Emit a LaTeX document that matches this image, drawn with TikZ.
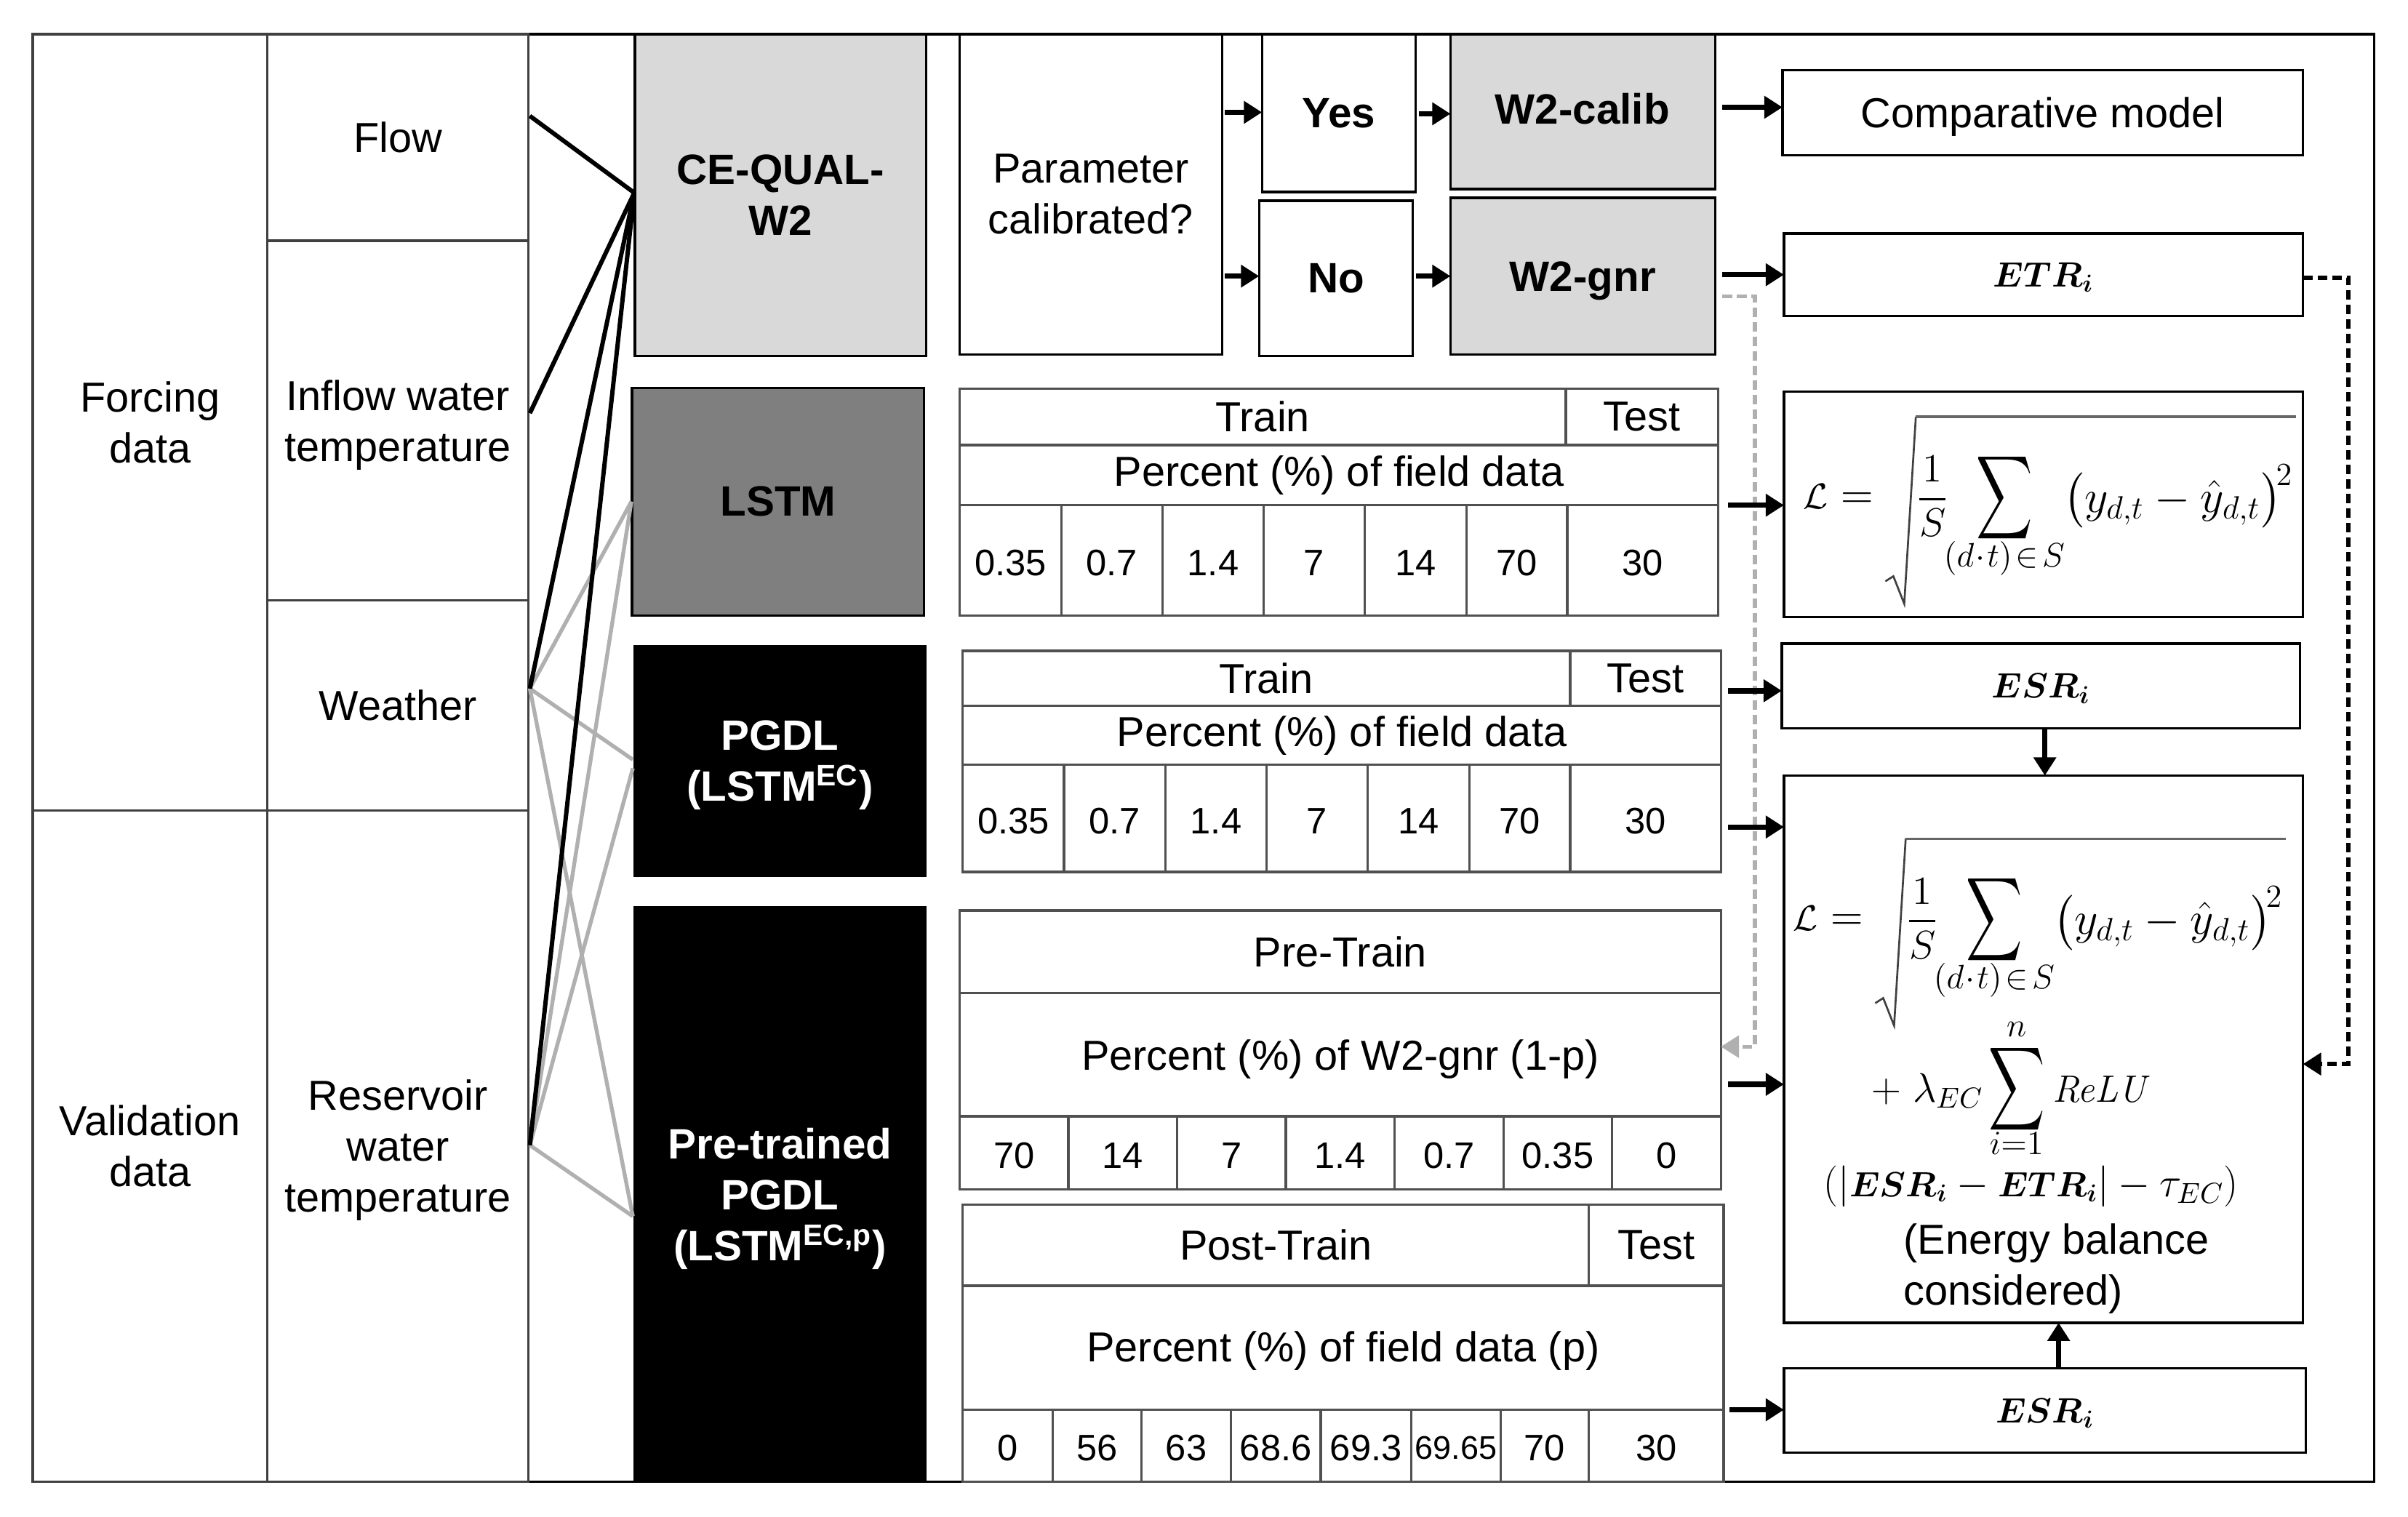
\documentclass[tikz,border=0pt]{standalone}
\usepackage{fix-cm}
\usepackage{amsmath,amssymb,graphicx}
\usepackage[no-math]{fontspec}
\setmainfont{Liberation Sans}
\usetikzlibrary{arrows.meta,calc}
\definecolor{lightbox}{HTML}{D9D9D9}
\definecolor{midbox}{HTML}{7F7F7F}
\definecolor{tabline}{HTML}{505050}
\definecolor{graylink}{HTML}{B0B0B0}
\newcommand{\sumsym}{\scalebox{0.87}[1.3]{$\displaystyle\sum$}}
\newcommand{\esrsym}{\scalebox{0.85}{$\boldsymbol{ESR_i}$}}
\newcommand{\etrsym}{\scalebox{0.85}{$\boldsymbol{ETR_i}$}}
\newcommand{\bx}[7]{%
  \pgfmathsetmacro\bxw{abs(#4-#2)*0.299}%
  \pgfmathsetmacro\bxh{abs(#5-#3)*0.299}%
  \node[#6,minimum width=\bxw pt,minimum height=\bxh pt] (#1) at ({(#2+#4)/2},{(#3+#5)/2}) {#7};}
\newcommand{\cellrow}[4]{%
  \foreach \xa/\xb/\val [count=\ci] in {#4} {\bx{#1\ci}{\xa}{#2}{\xb}{#3}{tcell}{\val}}}
% the root expression, drawn around the origin of the box at (#2,#3)
\newcommand{\rootexpr}[3]{%
  \begin{scope}[shift={(#2,#3)}]
    \node[mathtxt] (#1l) at (2536,685) {\scalebox{0.8}{$\mathcal{L}$}$\;=$};
    \draw[black!75,line width=0.8pt,line join=miter] (2601,802) -- (2612,795) -- (2627,833) -- (2643,575);
    \draw[black!60,line width=1pt] (2643,575) -- (3167,575);
    \node[font=\fontsize{16.5}{20}\selectfont] (#1f) at (2666,685) {$\dfrac{1}{S}$};
    \node[mathtxt] (#1s) at (2765,687) {\sumsym};
    \node[limtxt] (#1b) at (2765,770) {$(d\!\cdot\! t)\!\in\! S$};
    \node[font=\fontsize{19}{22}\selectfont] (#1p) at (3005,685) {$\bigl(y_{d,t}-\hat y_{d,t}\bigr)^{\!2}$};
  \end{scope}}
\tikzset{
  every node/.style={inner sep=0pt,outer sep=0pt,align=center},
  plainbox/.style={draw=black,line width=1pt,font=\fontsize{17.3}{21}\selectfont},
  colbox/.style={draw=black!75,line width=1pt,font=\fontsize{17.3}{21}\selectfont},
  lbltxt/.style={font=\fontsize{17.3}{21}\selectfont},
  boldbox/.style={draw=black,line width=1pt,font=\fontsize{17.5}{21}\selectfont\bfseries},
  boldtxt/.style={font=\fontsize{17.5}{21}\selectfont\bfseries},
  filledlight/.style={boldbox,fill=lightbox},
  filledmid/.style={boldbox,fill=midbox},
  filledblack/.style={boldbox,fill=black,text=white},
  thead/.style={draw=tabline,line width=1pt,font=\fontsize{17.3}{21}\selectfont},
  tcell/.style={draw=tabline,line width=1pt,font=\fontsize{15.2}{18}\selectfont,text height=12.6pt,text depth=0pt},
  tnarrow/.style={tcell,font=\fontsize{13.5}{16}\selectfont,text height=11pt},
  mathbox/.style={draw=black,line width=1pt,font=\fontsize{14.5}{18}\selectfont,text depth=0pt},
  mathtxt/.style={font=\fontsize{18.5}{22}\selectfont},
  limtxt/.style={font=\fontsize{14}{16}\selectfont},
  inblack/.style={black,line width=1.8pt},
  ingray/.style={graylink,line width=1.6pt},
  arr/.style={black,line width=2.2pt,-{Triangle[length=7.5pt,width=9pt]}},
  dasharr/.style={black,line width=1.8pt,dash pattern=on 4pt off 2pt,-{Triangle[length=7.5pt,width=9pt]}},
  grayarr/.style={graylink,line width=1.6pt,dash pattern=on 4pt off 2pt,-{Triangle[length=7.5pt,width=9pt]}},
}
\begin{document}
\begin{tikzpicture}[x=0.299pt,y=-0.299pt]
\useasboundingbox (0,0) rectangle (3322,2092);
\fill[white] (0,0) rectangle (3322,2092);
\bx{frame}{45}{47}{3275}{2044}{draw=black,line width=1pt}{}
% left columns
\bx{forcing}{45}{47}{369}{1118}{colbox}{Forcing\\data}
\bx{validation}{45}{1118}{369}{2044}{colbox}{Validation\\data}
\bx{flow}{369}{47}{729}{332}{colbox}{Flow}
\bx{inflow}{369}{332}{729}{828}{colbox}{}
\node[lbltxt] (inflowtxt) at (549,587) {Inflow water\\temperature};
\bx{weather}{369}{828}{729}{1118}{colbox}{Weather}
\bx{reservoir}{369}{1118}{729}{2044}{colbox}{}
\node[lbltxt] (reservoirtxt) at (549,1587) {Reservoir\\water\\temperature};
% models
\bx{cequal}{876}{47}{1278}{491}{filledlight}{CE-QUAL-\\W2}
\bx{lstm}{872}{535}{1275}{849}{filledmid}{LSTM}
\bx{pgdl}{876}{892}{1277}{1208}{filledblack}{}
\node[boldtxt,text=white] (pgdltxt) at (1076,1056) {PGDL\\(LSTM\textsuperscript{EC})};
\bx{pretrained}{876}{1252}{1277}{2044}{filledblack}{}
\node[boldtxt,text=white] (pretrainedtxt) at (1076,1654) {Pre-trained\\PGDL\\(LSTM\textsuperscript{EC,p})};
% links
\coordinate (cqin) at (875,266);
\coordinate (lsin) at (871,692);
\coordinate (pgin1) at (873,1048);
\coordinate (pgin2) at (873,1060);
\coordinate (ptin) at (873,1678);
\coordinate (flout) at (731,160);
\coordinate (ifout) at (731,570);
\coordinate (weout) at (731,950);
\coordinate (reout) at (731,1580);
\draw[ingray] (weout) -- (lsin);
\draw[ingray] (reout) -- (lsin);
\draw[ingray] (weout) -- (pgin1);
\draw[ingray] (reout) -- (pgin2);
\draw[ingray] (weout) -- (ptin);
\draw[ingray] (reout) -- (ptin);
\draw[inblack] (flout) -- (cqin);
\draw[inblack] (ifout) -- (cqin);
\draw[inblack] (weout) -- (cqin);
\draw[inblack] (reout) -- (cqin);
% calibration
\bx{calq}{1324}{47}{1686}{489}{plainbox}{Parameter\\calibrated?}
\bx{yes}{1741}{47}{1953}{265}{boldbox}{Yes}
\bx{no}{1737}{277}{1949}{491}{boldbox}{No}
\bx{wcalib}{2001}{47}{2366}{261}{filledlight}{}
\node[boldtxt] (wcalibtxt) at (2183,150) {W2-calib};
\bx{wgnr}{2001}{273}{2366}{489}{filledlight,text depth=0pt}{W2-gnr}
\bx{comp}{2459}{97}{3177}{214}{plainbox,text depth=0pt}{Comparative model}
\bx{etr}{2461}{322}{3177}{436}{mathbox}{$\boldsymbol{ETR_i}$}
% LSTM table
\bx{ltrain}{1324}{536}{2160}{614}{thead}{Train}
\bx{ltest}{2160}{536}{2370}{614}{thead}{Test}
\bx{lpct}{1324}{614}{2370}{697}{thead}{Percent (\%) of field data}
\cellrow{lc}{697}{849}{1324/1464/0.35,1464/1604/0.7,1604/1743/1.4,1743/1883/7,1883/2023/14,2023/2162/70,2162/2370/30}
% PGDL table
\bx{ptrain}{1328}{898}{2166}{974}{thead}{Train}
\bx{ptest}{2166}{898}{2374}{974}{thead}{Test}
\bx{ppct}{1328}{974}{2374}{1055}{thead}{Percent (\%) of field data}
\cellrow{pc}{1055}{1203}{1328/1468/0.35,1468/1608/0.7,1608/1747/1.4,1747/1887/7,1887/2027/14,2027/2166/70,2166/2374/30}
% Pre-train table
\bx{pretr}{1324}{1256}{2374}{1370}{thead}{Pre-Train}
\bx{prepct}{1324}{1370}{2374}{1540}{thead}{}
\node[lbltxt] (prepcttxt) at (1849,1461) {Percent (\%) of W2-gnr (1-p)};
\cellrow{pr}{1540}{1641}{1324/1474/70,1474/1624/14,1624/1774/7,1774/1924/1.4,1924/2074/0.7,2074/2224/0.35,2224/2374/0}
% Post-train table
\bx{posttr}{1328}{1662}{2192}{1774}{thead}{Post-Train}
\bx{posttest}{2192}{1662}{2378}{1774}{thead}{Test}
\bx{postpct}{1328}{1774}{2378}{1945}{thead}{}
\node[lbltxt] (postpcttxt) at (1853,1864) {Percent (\%) of field data (p)};
\cellrow{po}{1945}{2044}{1328/1452/0,1452/1575/56,1575/1698/63,1698/1822/68.6,1822/1947/69.3}
\bx{po6}{1947}{1945}{2070}{2044}{tnarrow}{69.65}
\bx{po7}{2070}{1945}{2192}{2044}{tcell}{70}
\bx{po8}{2192}{1945}{2378}{2044}{tcell}{30}
% right boxes
\bx{lossa}{2461}{540}{3177}{851}{mathbox}{}
\rootexpr{ra}{0}{0}
\bx{esra}{2458}{888}{3173}{1005}{mathbox}{$\boldsymbol{ESR_i}$}
\bx{big}{2461}{1070}{3177}{1825}{mathbox}{}
\rootexpr{rb}{-14}{582}
\node[font=\fontsize{17}{20}\selectfont] (biglam) at (2659,1505) {$+\;\lambda_{EC}$};
\node[mathtxt] (bigsum) at (2782,1503) {\sumsym};
\node[limtxt] (bigup) at (2782,1420) {$n$};
\node[limtxt] (bigdn) at (2782,1577) {$i{=}1$};
\node[mathtxt] (bigrelu) at (2900,1503) {\scalebox{0.85}{$\mathit{ReLU}$}};
\node[font=\fontsize{17}{20}\selectfont] (bigabs) at (2802,1637) {$(|\esrsym-\etrsym|-\tau_{EC})$};
\node[lbltxt,align=left,anchor=north west] (bigtxt) at (2626,1688) {(Energy balance\\considered)};
\bx{esrb}{2461}{1888}{3181}{2004}{mathbox}{$\boldsymbol{ESR_i}$}
% arrows
\coordinate (c1) at (1690,155);
\coordinate (c2) at (1690,381);
\coordinate (c3) at (1957,157);
\coordinate (c4) at (1953,381);
\coordinate (c5) at (2376,148);
\coordinate (c6) at (2376,379);
\draw[arr] (c1) -- (yes.west |- c1);
\draw[arr] (c2) -- (no.west |- c2);
\draw[arr] (c3) -- (wcalib.west |- c3);
\draw[arr] (c4) -- (wgnr.west |- c4);
\draw[arr] (c5) -- (comp.west |- c5);
\draw[arr] (c6) -- (etr.west |- c6);
% gray dashed feedback
\coordinate (g1) at (2376,409);
\coordinate (g2) at (2421,1444);
\draw[grayarr] (g1) -| (g2) -- (prepct.east |- g2);
% data arrows
\coordinate (d1) at (2384,697);
\coordinate (d2) at (2384,953);
\coordinate (d3) at (2384,1141);
\coordinate (d4) at (2384,1496);
\coordinate (d5) at (2386,1945);
\draw[arr] (d1) -- (lossa.west |- d1);
\draw[arr] (d2) -- (esra.west |- d2);
\draw[arr] (d3) -- (big.west |- d3);
\draw[arr] (d4) -- (big.west |- d4);
\draw[arr] (d5) -- (esrb.west |- d5);
\coordinate (e1) at (2821,1005);
\coordinate (e2) at (2840,1888);
\draw[arr] (esra.south -| e1) -- (big.north -| e1);
\draw[arr] (esrb.north -| e2) -- (big.south -| e2);
% dashed ETR
\coordinate (h1) at (3177,383);
\coordinate (h2) at (3240,1468);
\draw[dasharr] (h1) -| (h2) -- (big.east |- h2);
\end{tikzpicture}
\end{document}
